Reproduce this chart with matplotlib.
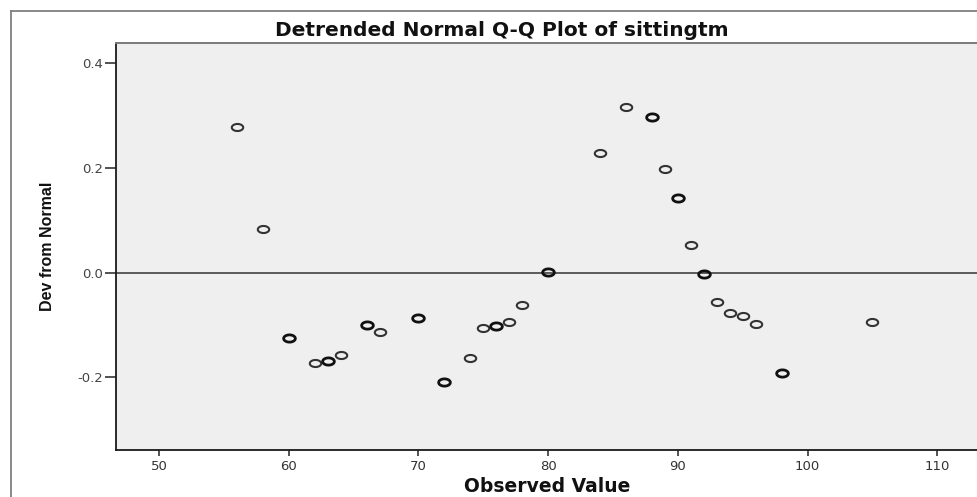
import numpy as np
import matplotlib
matplotlib.use("Agg")
import matplotlib.pyplot as plt
from matplotlib.path import Path
from matplotlib.lines import Line2D

# observed values (sittingtm) and their deviation from normal
observed = [56, 58, 60, 62, 63, 64, 66, 67, 70, 72, 74, 75, 76, 77, 78, 80,
            84, 86, 88, 89, 90, 91, 92, 93, 94, 95, 96, 98, 105]
dev = [0.278, 0.083, -0.125, -0.172, -0.168, -0.157, -0.100, -0.113, -0.087,
       -0.209, -0.163, -0.106, -0.102, -0.094, -0.062, 0.001, 0.228, 0.316,
       0.297, 0.198, 0.142, 0.053, -0.002, -0.056, -0.077, -0.083, -0.098,
       -0.192, -0.095]
# number of tied cases at each value (ties are drawn on top of each other)
ties = [1, 1, 2, 1, 2, 1, 2, 1, 2, 2, 1, 1, 2, 1, 1, 2,
        1, 1, 2, 1, 2, 1, 2, 1, 1, 1, 1, 2, 1]

x_ticks = [50, 60, 70, 80, 90, 100, 110]
y_ticks = [-0.2, 0.0, 0.2, 0.4]

W, H = 977, 497
fig = plt.figure(figsize=(W / 100, H / 100), dpi=100)
fig.patch.set_facecolor('white')

# plot area in pixels: left 116, top 43, bottom 450, runs past the right edge
L, T, B, R = 116, 43, 450, 982
ax = fig.add_axes([L / W, (H - B) / H, (R - L) / W, (B - T) / H])
ax.set_facecolor('#efefef')

ax.set_xlim(46.68, 113.45)
ax.set_ylim(-0.339, 0.4388)

# zero reference line
ax.axhline(0, color='#5a5a5a', linewidth=1.4, zorder=1)

# flattened circle marker like SPSS
t = np.linspace(0, 2 * np.pi, 60)
ell = Path(np.column_stack([np.cos(t), 0.62 * np.sin(t)]), closed=True)

obs = np.array(observed)
dv = np.array(dev)
tc = np.array(ties)
single = tc == 1
ax.plot(obs[single], dv[single], linestyle='none', marker=ell, markersize=8.2,
        markerfacecolor='none', markeredgecolor='#333333', markeredgewidth=1.5, zorder=3)
ax.plot(obs[~single], dv[~single], linestyle='none', marker=ell, markersize=8.4,
        markerfacecolor='none', markeredgecolor='#111111', markeredgewidth=2.0, zorder=3)

# axes styling
ax.spines['right'].set_visible(False)
ax.spines['top'].set_color('#7a7a7a')
ax.spines['top'].set_linewidth(1.4)
for s in ('left', 'bottom'):
    ax.spines[s].set_color('#1a1a1a')
    ax.spines[s].set_linewidth(1.3)

ax.set_xticks(x_ticks)
ax.set_xticklabels([str(v) for v in x_ticks])
ax.set_yticks(y_ticks)
ax.set_yticklabels([f"{v:.1f}" for v in y_ticks])
ax.tick_params(axis='x', direction='out', length=4.5, width=1.3, color='#444444',
               pad=2.5, labelsize=9.5, labelcolor='#333333')
ax.tick_params(axis='y', direction='out', length=8, width=1.3, color='#444444',
               pad=1.2, labelsize=9.5, labelcolor='#444444')
for lab in ax.get_xticklabels() + ax.get_yticklabels():
    lab.set_family('DejaVu Sans')

# outer chart frame
fig.add_artist(Line2D([11 / W, 11 / W], [0, (H - 11) / H], color='#808080', linewidth=1.3))
fig.add_artist(Line2D([11 / W, 1], [(H - 11) / H, (H - 11) / H], color='#808080', linewidth=1.3))

fig.text(502 / W, (H - 30) / H, 'Detrended Normal Q-Q Plot of sittingtm',
         ha='center', va='center', fontsize=14.5, fontweight='bold',
         family='DejaVu Sans', color='#111111')
fig.text(547 / W, (H - 487) / H, 'Observed Value', ha='center', va='center',
         fontsize=13.5, fontweight='bold', family='DejaVu Sans', color='#111111')
fig.text(47 / W, (H - 246) / H, 'Dev from Normal', ha='center', va='center',
         rotation=90, fontsize=11.5, fontweight='bold',
         family='Liberation Sans', color='#111111')

fig.savefig('out.png', dpi=100)
